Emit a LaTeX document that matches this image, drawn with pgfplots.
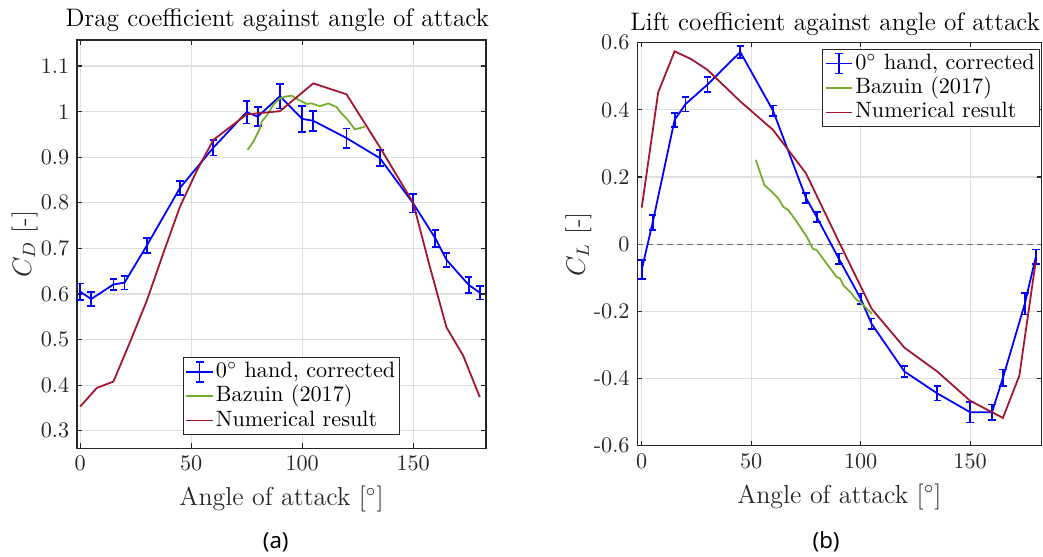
\documentclass[border=0pt]{standalone}
\usepackage{fontspec}
\usepackage{pgfplots}
\pgfplotsset{compat=1.18}
\usepackage{pgfplotstable}
\newfontfamily\capfont{Noto Sans}

\definecolor{axgray}{HTML}{262626}
\definecolor{gridgray}{HTML}{DFDFDF}
\definecolor{expblue}{RGB}{0,0,255}
\definecolor{bazgreen}{rgb}{0.466,0.674,0.188}
\definecolor{numred}{rgb}{0.635,0.078,0.184}

% Drag: measured (angle, C_D, error), reference and numerical curves
\pgfplotstableread{
a    c      e
0    0.605  0.018
5    0.589  0.015
15   0.621  0.012
20   0.625  0.015
30   0.706  0.016
45   0.833  0.015
60   0.921  0.017
75   0.999  0.025
80   0.989  0.021
90   1.034  0.027
100  0.984  0.028
105  0.980  0.022
120  0.942  0.021
135  0.898  0.018
150  0.799  0.020
160  0.722  0.019
165  0.675  0.015
175  0.620  0.018
180  0.603  0.015
}\dragexp
\pgfplotstableread{
a      c
75.4   0.916
78     0.934
80.7   0.960
81.8   0.978
84     0.991
87     1.015
90     1.029
92.5   1.033
95.3   1.035
98.3   1.026
102    1.017
104.3  1.018
108    1.012
111.8  1.018
115.5  1.010
117    1.000
120    0.985
123.8  0.961
128.3  0.967
}\dragbaz
\pgfplotstableread{
a      c
0      0.353
7.5    0.394
15     0.408
22.5   0.495
30     0.585
37.5   0.690
45     0.792
52.5   0.870
60     0.938
75     0.994
90     1.001
105    1.062
120    1.038
135    0.922
150    0.800
157.5  0.660
165    0.527
172.5  0.465
180    0.374
}\dragnum

% Lift: measured (angle, C_L, error), reference and numerical curves
\pgfplotstableread{
a    c       e
0    -0.075  0.028
5    0.065   0.023
15   0.370   0.021
20   0.417   0.022
30   0.475   0.023
45   0.572   0.017
60   0.397   0.016
75   0.138   0.015
80   0.080   0.015
90   -0.043  0.015
100  -0.162  0.015
105  -0.237  0.016
120  -0.379  0.017
135  -0.444  0.021
150  -0.500  0.031
160  -0.500  0.023
165  -0.398  0.025
175  -0.177  0.032
180  -0.038  0.022
}\liftexp
\pgfplotstableread{
a      c
52.1   0.251
56     0.176
59.4   0.156
62.4   0.136
64.7   0.111
67     0.101
70.8   0.067
75.4   0.022
78.1   -0.013
80     -0.018
84.5   -0.058
89.1   -0.098
90.6   -0.102
92.1   -0.122
95.2   -0.142
98.3   -0.167
99.8   -0.172
105.1  -0.207
}\liftbaz
\pgfplotstableread{
a      c
0      0.109
7.5    0.452
15     0.574
22.5   0.551
30     0.519
45     0.425
60     0.340
75     0.211
90     0.008
105    -0.192
120    -0.308
135    -0.379
150    -0.466
165    -0.517
172.5  -0.391
180    -0.050
}\liftnum

\pgfplotsset{
  coeffaxis/.style={
    scale only axis,
    anchor=south west,
    axis line style={draw=axgray, line width=0.5pt},
    tick style={draw=axgray, line width=0.5pt},
    tick align=inside,
    major tick length=2.1pt,
    grid=major,
    major grid style={draw=gridgray, line width=0.5pt},
    ticklabel style={font=\fontsize{10}{12}\selectfont, text=axgray},
    every axis title shift=0pt,
    title style={font=\fontsize{11.4}{13.5}\selectfont, anchor=base, xshift=-1.9pt},
    label style={font=\fontsize{11.7}{14}\selectfont, text=axgray},
    xtick={0,50,100,150},
    xticklabels={0,50,100,150},
    xlabel={Angle of attack [$^\circ$]},
    xlabel style={at={(axis description cs:0.5,0)}, anchor=base, yshift=-26pt},
    legend cell align=left,
    legend style={draw=axgray, line width=0.5pt, fill=white,
      font=\fontsize{10}{12}\selectfont, text=black,
      inner xsep=1pt, inner ysep=0.8pt, row sep=0pt,
      nodes={inner xsep=1pt, inner ysep=1pt, text height=7pt, text depth=2pt}},
  },
  errlegend/.style={legend image code/.code={
    \draw[expblue, line width=0.8pt] (0pt,0pt) -- (12pt,0pt);
    \draw[expblue, line width=0.8pt] (6pt,-4.5pt) -- (6pt,4.5pt);
    \draw[expblue, line width=0.8pt] (4.2pt,-4.5pt) -- (7.8pt,-4.5pt);
    \draw[expblue, line width=0.8pt] (4.2pt,4.5pt) -- (7.8pt,4.5pt);
  }},
  shortlegend/.style={legend image code/.code={
    \draw[##1] (0pt,0pt) -- (12pt,0pt);
  }},
  expline/.style={errlegend, expblue, line width=0.8pt,
    error bars/.cd, y dir=both, y explicit,
    error bar style={line width=0.8pt, expblue},
    error mark options={expblue, line width=0.8pt, mark size=1.7pt, rotate=90},
  },
}

\begin{document}
\begin{tikzpicture}
\useasboundingbox (0,0) rectangle (469.8pt,250.5pt);

% Drag coefficient
\begin{axis}[coeffaxis,
  at={(34.7pt,48.65pt)},
  width=184.2pt, height=183.8pt,
  xmin=-1.4, xmax=182.8,
  ymin=0.262, ymax=1.157,
  ytick={0.3,0.4,0.5,0.6,0.7,0.8,0.9,1,1.1},
  yticklabels={0.3,0.4,0.5,0.6,0.7,0.8,0.9,1,1.1},
  title={Drag coefficient against angle of attack},
  title style={at={(axis description cs:0.5,1)}, yshift=6pt},
  ylabel={$C_D$ [-]},
  ylabel style={at={(axis description cs:0,0.5)}, anchor=center, yshift=23.65pt},
  legend style={at={(0.258,0.032)}, anchor=south west},
]
\addplot[expline] table[x=a, y=c, y error=e] {\dragexp};
\addlegendentry{$0^\circ$ hand, corrected}
\addplot[bazgreen, line width=0.8pt, shortlegend] table[x=a, y=c] {\dragbaz};
\addlegendentry{Bazuin (2017)}
\addplot[numred, line width=0.8pt, shortlegend] table[x=a, y=c] {\dragnum};
\addlegendentry{Numerical result}
\end{axis}

% Lift coefficient
\begin{axis}[coeffaxis,
  at={(287.1pt,49.7pt)},
  width=181.9pt, height=181.6pt,
  xmin=-2, xmax=182.5,
  ymin=-0.6, ymax=0.6,
  ytick={-0.6,-0.4,-0.2,0,0.2,0.4,0.6},
  yticklabels={-0.6,-0.4,-0.2,0,0.2,0.4,0.6},
  title={Lift coefficient against angle of attack},
  title style={at={(axis description cs:0.5,1)}, yshift=5.4pt},
  ylabel={$C_L$ [-]},
  ylabel style={at={(axis description cs:0,0.5)}, anchor=center, yshift=26.6pt},
  legend style={at={(0.996,0.984)}, anchor=north east},
]
\addplot[gray!85!black, line width=0.5pt, dash pattern=on 2.7pt off 1.8pt, forget plot]
  coordinates {(-2,0) (182.5,0)};
\addplot[expline] table[x=a, y=c, y error=e] {\liftexp};
\addlegendentry{$0^\circ$ hand, corrected}
\addplot[bazgreen, line width=0.8pt, shortlegend] table[x=a, y=c] {\liftbaz};
\addlegendentry{Bazuin (2017)}
\addplot[numred, line width=0.8pt, shortlegend] table[x=a, y=c] {\liftnum};
\addlegendentry{Numerical result}
\end{axis}

\node[font=\capfont\fontsize{10}{12}\selectfont, anchor=center] at (124.2pt,6.4pt) {(a)};
\node[font=\capfont\fontsize{10}{12}\selectfont, anchor=center] at (372.1pt,6.4pt) {(b)};
\end{tikzpicture}
\end{document}
